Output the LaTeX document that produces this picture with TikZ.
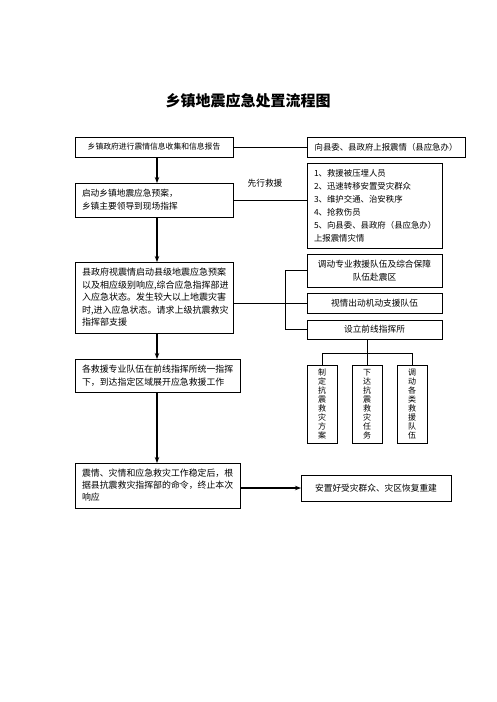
\documentclass[tikz,border=0pt]{standalone}
\usepackage{fontspec}
\setmainfont{Noto Sans CJK SC}
\usetikzlibrary{arrows.meta}
\begin{document}
\begin{tikzpicture}[x=1pt,y=-1pt,
  box/.style={draw,line width=0.9pt,inner sep=0pt,outer sep=0pt},
  lbox/.style={box,align=left,inner xsep=7pt},
  cbox/.style={box,align=center},
  vbox/.style={box,align=center,font=\fontsize{8}{9}\selectfont},
  conn/.style={line width=0.8pt},
  arr/.style={line width=1.3pt,-{Stealth[length=6pt,width=4.5pt]}},
  txt/.style={font=\fontsize{8.7}{13}\selectfont}
]
\useasboundingbox[fill=white] (0,0) rectangle (496,702);
% title
\node[font=\fontsize{15}{17}\selectfont\bfseries] (title) at (248,101) {乡镇地震应急处置流程图};
% left column
\node[cbox,minimum width=158pt,minimum height=20pt,font=\fontsize{7.8}{10}\selectfont] (B1) at (154,147) {乡镇政府进行震情信息收集和信息报告};
\node[lbox,minimum width=158pt,minimum height=34pt,text width=144pt,font=\fontsize{8.7}{13}\selectfont] (B2) at (154,200) {启动乡镇地震应急预案，\\乡镇主要领导到现场指挥};
\node[lbox,minimum width=158pt,minimum height=71pt,text width=144pt,font=\fontsize{9}{12.5}\selectfont] (B3) at (154,297.5) {县政府视震情启动县级地震应急预案\\以及相应级别响应,综合应急指挥部进\\入应急状态。发生较大以上地震灾害\\时,进入应急状态。请求上级抗震救灾\\指挥部支援};
\node[lbox,minimum width=165pt,minimum height=33pt,text width=151pt,font=\fontsize{8.9}{13.5}\selectfont] (B4) at (157.5,375.5) {各救援专业队伍在前线指挥所统一指挥\\下，到达指定区域展开应急救援工作};
\node[lbox,minimum width=165pt,minimum height=45pt,text width=151pt,font=\fontsize{8.9}{12}\selectfont] (B5) at (157.5,485.5) {震情、灾情和应急救灾工作稳定后，根\\据县抗震救灾指挥部的命令，终止本次\\响应};
% right column
\node[cbox,minimum width=158pt,minimum height=20pt,font=\fontsize{8.4}{10}\selectfont] (R1) at (386,147) {向县委、县政府上报震情（县应急办）};
\node[box,align=left,inner xsep=7pt,minimum width=135pt,minimum height=85pt,text width=121pt,font=\fontsize{8.4}{13}\selectfont] (R2) at (374.5,205.5) {1、救援被压埋人员\\2、迅速转移安置受灾群众\\3、维护交通、治安秩序\\4、抢救伤员\\5、向县委、县政府（县应急办）\\上报震情灾情};
\node[cbox,minimum width=135pt,minimum height=33pt,font=\fontsize{8.7}{13}\selectfont] (R3) at (374.5,270.5) {调动专业救援队伍及综合保障\\队伍赴震区};
\node[cbox,minimum width=135pt,minimum height=20pt,font=\fontsize{8.7}{11}\selectfont] (R4) at (374.5,303) {视情出动机动支援队伍};
\node[cbox,minimum width=135pt,minimum height=19pt,font=\fontsize{8.7}{11}\selectfont] (R5) at (374.5,329.5) {设立前线指挥所};
\node[vbox,minimum width=30pt,minimum height=78pt] (V1) at (322,404) {制\\定\\抗\\震\\救\\灾\\方\\案};
\node[vbox,minimum width=30pt,minimum height=78pt] (V2) at (367,404) {下\\达\\抗\\震\\救\\灾\\任\\务};
\node[vbox,minimum width=30pt,minimum height=78pt] (V3) at (412,404) {调\\动\\各\\类\\救\\援\\队\\伍};
\node[cbox,minimum width=150pt,minimum height=26pt,font=\fontsize{8.7}{11}\selectfont] (R6) at (376,488) {安置好受灾群众、灾区恢复重建};
\node[txt] (lab) at (265,183) {先行救援};
% connectors
\draw[conn] (B1.east) -- (R1.west);
\draw[conn] (B2.east) -- (B2.east -| R2.west);
\draw[conn] (B3.east |- R4.west) -- (R4.west);
\draw[conn] (R3.west) -- ++(-22,0) |- (R5.west);
\coordinate (hub) at (V2.north |- 0,353);
\draw[conn] (V2.north) -- (V2.north |- R5.south);
\draw[conn] (V1.north) -- (V1.north |- hub) -- (V3.north |- hub) -- (V3.north);
\draw[arr] ([xshift=3pt]B1.south) -- ([xshift=3pt]B2.north);
\draw[arr] ([xshift=3pt]B2.south) -- ([xshift=3pt]B3.north);
\draw[arr] ([xshift=3pt]B3.south) -- ([xshift=-0.5pt]B4.north);
\draw[arr] ([xshift=-0.5pt]B4.south) -- ([xshift=-0.5pt]B5.north);
\draw[arr] (B5.east |- R6.west) -- (R6.west);
\end{tikzpicture}
\end{document}
